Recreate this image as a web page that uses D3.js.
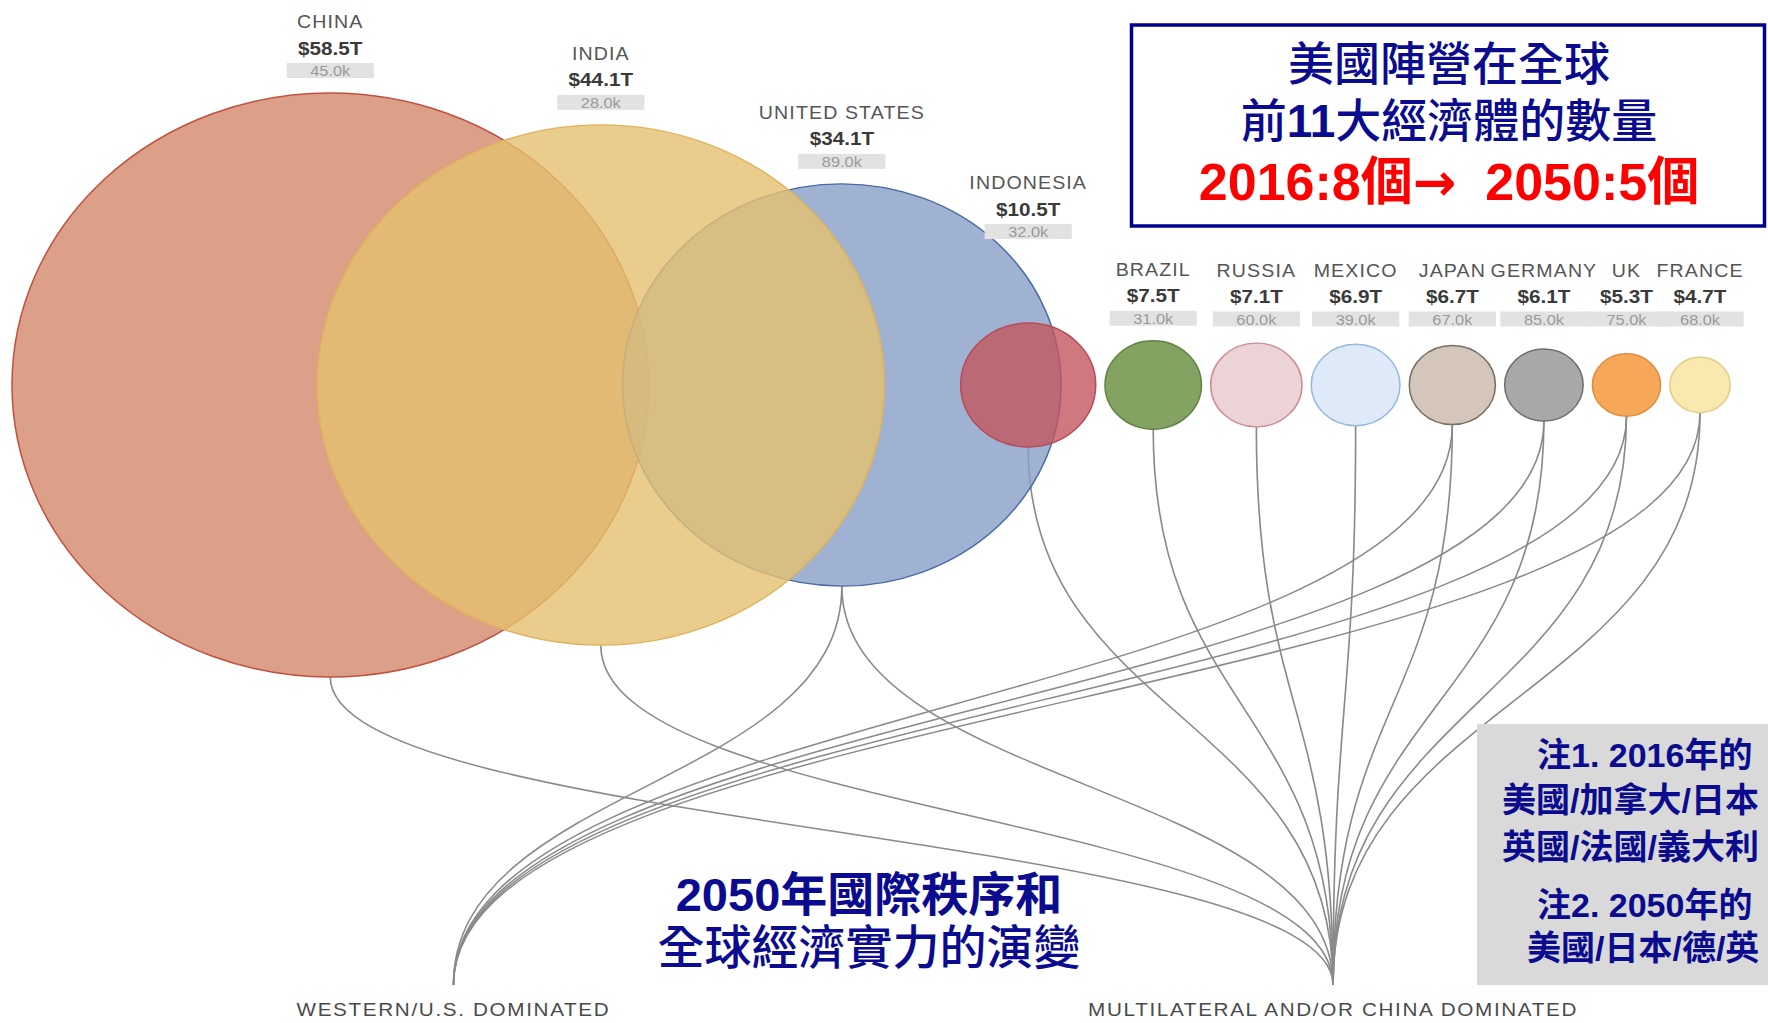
<!DOCTYPE html>
<html>
<head>
<meta charset="utf-8">
<title>2050年國際秩序和全球經濟實力的演變</title>
<script src="https://d3js.org/d3.v7.min.js"></script>
<style>
  html, body { margin:0; padding:0; background:#fff; overflow:hidden; }
  svg { display:block; overflow:hidden; }
  .name  { font-family:"Liberation Sans", Arial, sans-serif; font-size:18px; letter-spacing:1px; fill:#555; }
  .value { font-family:"Liberation Sans", Arial, sans-serif; font-size:19px; font-weight:bold; fill:#3a3a3a; }
  .pc    { font-family:"Liberation Sans", Arial, sans-serif; font-size:15px; fill:#9a9a9a; }
  .bloc  { font-family:"Liberation Sans", Arial, sans-serif; font-size:19px; letter-spacing:1.5px; fill:#4a4a4a; }
  .zh    { font-family:"Liberation Sans", "Noto Sans CJK TC", sans-serif; fill:#0b0b8f; }
</style>
</head>
<body>
<svg id="chart" width="1768" height="1023"></svg>
<script>
  // 2050 projections, largest economies first
  var countries = ["CHINA", "INDIA", "UNITED STATES", "INDONESIA", "BRAZIL", "RUSSIA",
                   "MEXICO", "JAPAN", "GERMANY", "UK", "FRANCE"];
  var gdp2050 = [58.5, 44.1, 34.1, 10.5, 7.5, 7.1, 6.9, 6.7, 6.1, 5.3, 4.7];      // $ trillions
  var gdpPerCapita = [45.0, 28.0, 89.0, 32.0, 31.0, 60.0, 39.0, 67.0, 85.0, 75.0, 68.0]; // $ thousands

  var blocs = ["WESTERN/U.S. DOMINATED", "MULTILATERAL AND/OR CHINA DOMINATED"];
  var westernCountries = ["UNITED STATES", "JAPAN", "GERMANY", "UK", "FRANCE"];
  var multilateralCountries = countries.slice(); // every one of the eleven

  var fillColors   = ["#d3876a", "#e5c06f", "#889fc7", "#c3565f", "#658c3b", "#e7c9cc",
                      "#d6e5f6", "#c9b8a9", "#929292", "#f4922e", "#f7e39b"];
  var strokeColors = ["#c2503f", "#e0b25a", "#4a6aa8", "#b84a55", "#5f8440", "#cd8c96",
                      "#96b9e1", "#786e64", "#6e6e6e", "#e18c3c", "#e1cd87"];

  var width = 1768, height = 1023;
  var stretch = 1.09;   // the source graphic is drawn a little wider than tall
  var cy = 385, blocY = 985;
  var boxW = 80, boxH = 15;

  var svg = d3.select("#chart");
  svg.append("rect").attr("width", width).attr("height", height).attr("fill", "#fff");

  var chart = svg.append("g").attr("transform", "scale(" + stretch + ",1)");

  var r = d3.scaleLinear().domain([0, 49.5]).range([0, 292]).clamp(true);
  var fill = d3.scaleOrdinal().domain(countries).range(fillColors);
  var edge = d3.scaleOrdinal().domain(countries).range(strokeColors);
  var blocX = d3.scalePoint().domain(blocs).range([416, 1223]);
  var fmt = d3.format(".1f");

  var nodes = countries.map(function(c, i) {
    return {name: c, gdp: gdp2050[i], pc: gdpPerCapita[i], r: r(gdp2050[i])};
  });

  // pack left to right: the giants overlap each other, the rest sit in a row
  nodes.forEach(function(d, i) {
    if (i == 0) d.cx = 11 + d.r;
    else {
      var p = nodes[i - 1];
      d.cx = p.gdp > 30 ? p.cx + 0.85 * p.r : p.cx + p.r + d.r + 8.5;
    }
    d.top = cy - d.r;
    d.ky = Math.min(d.top - 22.5, 319);
    // lift the label clear of the circle before it
    if (i > 0) {
      var q = nodes[i - 1];
      while (Math.hypot(d.cx - boxW / 2 - q.cx, d.ky - cy) < q.r) d.ky -= 1;
    }
  });
  var byName = {};
  nodes.forEach(function(d) { byName[d.name] = d; });

  var links = [];
  westernCountries.forEach(function(c) { links.push({node: byName[c], bloc: blocs[0]}); });
  multilateralCountries.forEach(function(c) { links.push({node: byName[c], bloc: blocs[1]}); });

  var linkPath = d3.linkVertical();
  chart.append("g").selectAll("path")
    .data(links)
    .join("path")
      .attr("d", function(d) {
        return linkPath({source: [d.node.cx, cy + d.node.r], target: [blocX(d.bloc), blocY]});
      })
      .attr("fill", "none")
      .attr("stroke", "#8a8a8a")
      .attr("stroke-width", 1.5);

  var circles = chart.append("g").selectAll("circle")
    .data(nodes)
    .join("circle")
      .attr("cx", function(d) { return d.cx; })
      .attr("cy", cy)
      .attr("r", function(d) { return d.r; })
      .attr("fill", function(d) { return fill(d.name); })
      .attr("fill-opacity", 0.8)
      .attr("stroke", function(d) { return edge(d.name); })
      .attr("stroke-width", 1.4);
  circles.filter(function(d) { return d.name == "INDIA"; }).raise();

  var labels = chart.append("g").selectAll("g")
    .data(nodes)
    .join("g")
      .attr("transform", function(d) { return "translate(" + d.cx + "," + d.ky + ")"; });
  labels.append("text").attr("class", "name")
    .attr("text-anchor", "middle").attr("y", -42.5)
    .text(function(d) { return d.name; });
  labels.append("text").attr("class", "value")
    .attr("text-anchor", "middle").attr("y", -16)
    .text(function(d) { return "$" + fmt(d.gdp) + "T"; });
  labels.append("rect")
    .attr("x", -boxW / 2).attr("y", -boxH / 2)
    .attr("width", boxW).attr("height", boxH)
    .attr("fill", "#e2e2e2");
  labels.append("text").attr("class", "pc")
    .attr("text-anchor", "middle").attr("y", 5.5)
    .text(function(d) { return fmt(d.pc) + "k"; });

  chart.append("g").selectAll("text")
    .data(blocs)
    .join("text")
      .attr("class", "bloc")
      .attr("text-anchor", "middle")
      .attr("x", function(d) { return blocX(d); })
      .attr("y", 1016)
      .text(function(d) { return d; });

  // annotation boxes laid over the graphic
  svg.append("rect")
    .attr("x", 1131.5).attr("y", 25).attr("width", 633).attr("height", 201)
    .attr("fill", "#fff").attr("stroke", "#00008b").attr("stroke-width", 3.5);
  svg.append("text").attr("class", "zh").attr("x", 1449).attr("y", 80)
    .attr("text-anchor", "middle").style("font-size", "46px").style("font-weight", 500)
    .text("美國陣營在全球");
  var t2 = svg.append("text").attr("class", "zh").attr("x", 1449).attr("y", 137)
    .attr("text-anchor", "middle").style("font-size", "46px").style("font-weight", 500);
  t2.append("tspan").text("前");
  t2.append("tspan").style("font-weight", "bold").text("11");
  t2.append("tspan").text("大經濟體的數量");
  var t3 = svg.append("text").attr("class", "zh").attr("x", 1449).attr("y", 200)
    .attr("text-anchor", "middle").style("font-size", "52px").style("font-weight", "bold")
    .style("fill", "#ff0000").attr("xml:space", "preserve");
  t3.append("tspan").text("2016:8個");
  t3.append("tspan").style("font-family", "'DejaVu Sans', sans-serif").text("→");
  t3.append("tspan").text("  2050:5個");

  svg.append("rect")
    .attr("x", 1477).attr("y", 724).attr("width", 320).attr("height", 261)
    .attr("fill", "#d9d9d9");
  var notes = [
    ["注1. 2016年的", 1537, 767],
    ["美國/加拿大/日本", 1502, 812],
    ["英國/法國/義大利", 1502, 859],
    ["注2. 2050年的", 1537, 917],
    ["美國/日本/德/英", 1527, 960]
  ];
  svg.append("g").selectAll("text")
    .data(notes)
    .join("text")
      .attr("class", "zh")
      .attr("x", function(d) { return d[1]; })
      .attr("y", function(d) { return d[2]; })
      .style("font-size", "34px").style("font-weight", "bold")
      .text(function(d) { return d[0]; });

  svg.append("text").attr("class", "zh").attr("x", 869).attr("y", 911)
    .attr("text-anchor", "middle").style("font-size", "47px").style("font-weight", "bold")
    .text("2050年國際秩序和");
  svg.append("text").attr("class", "zh").attr("x", 869).attr("y", 964)
    .attr("text-anchor", "middle").style("font-size", "47px").style("font-weight", 500)
    .text("全球經濟實力的演變");
</script>
</body>
</html>
